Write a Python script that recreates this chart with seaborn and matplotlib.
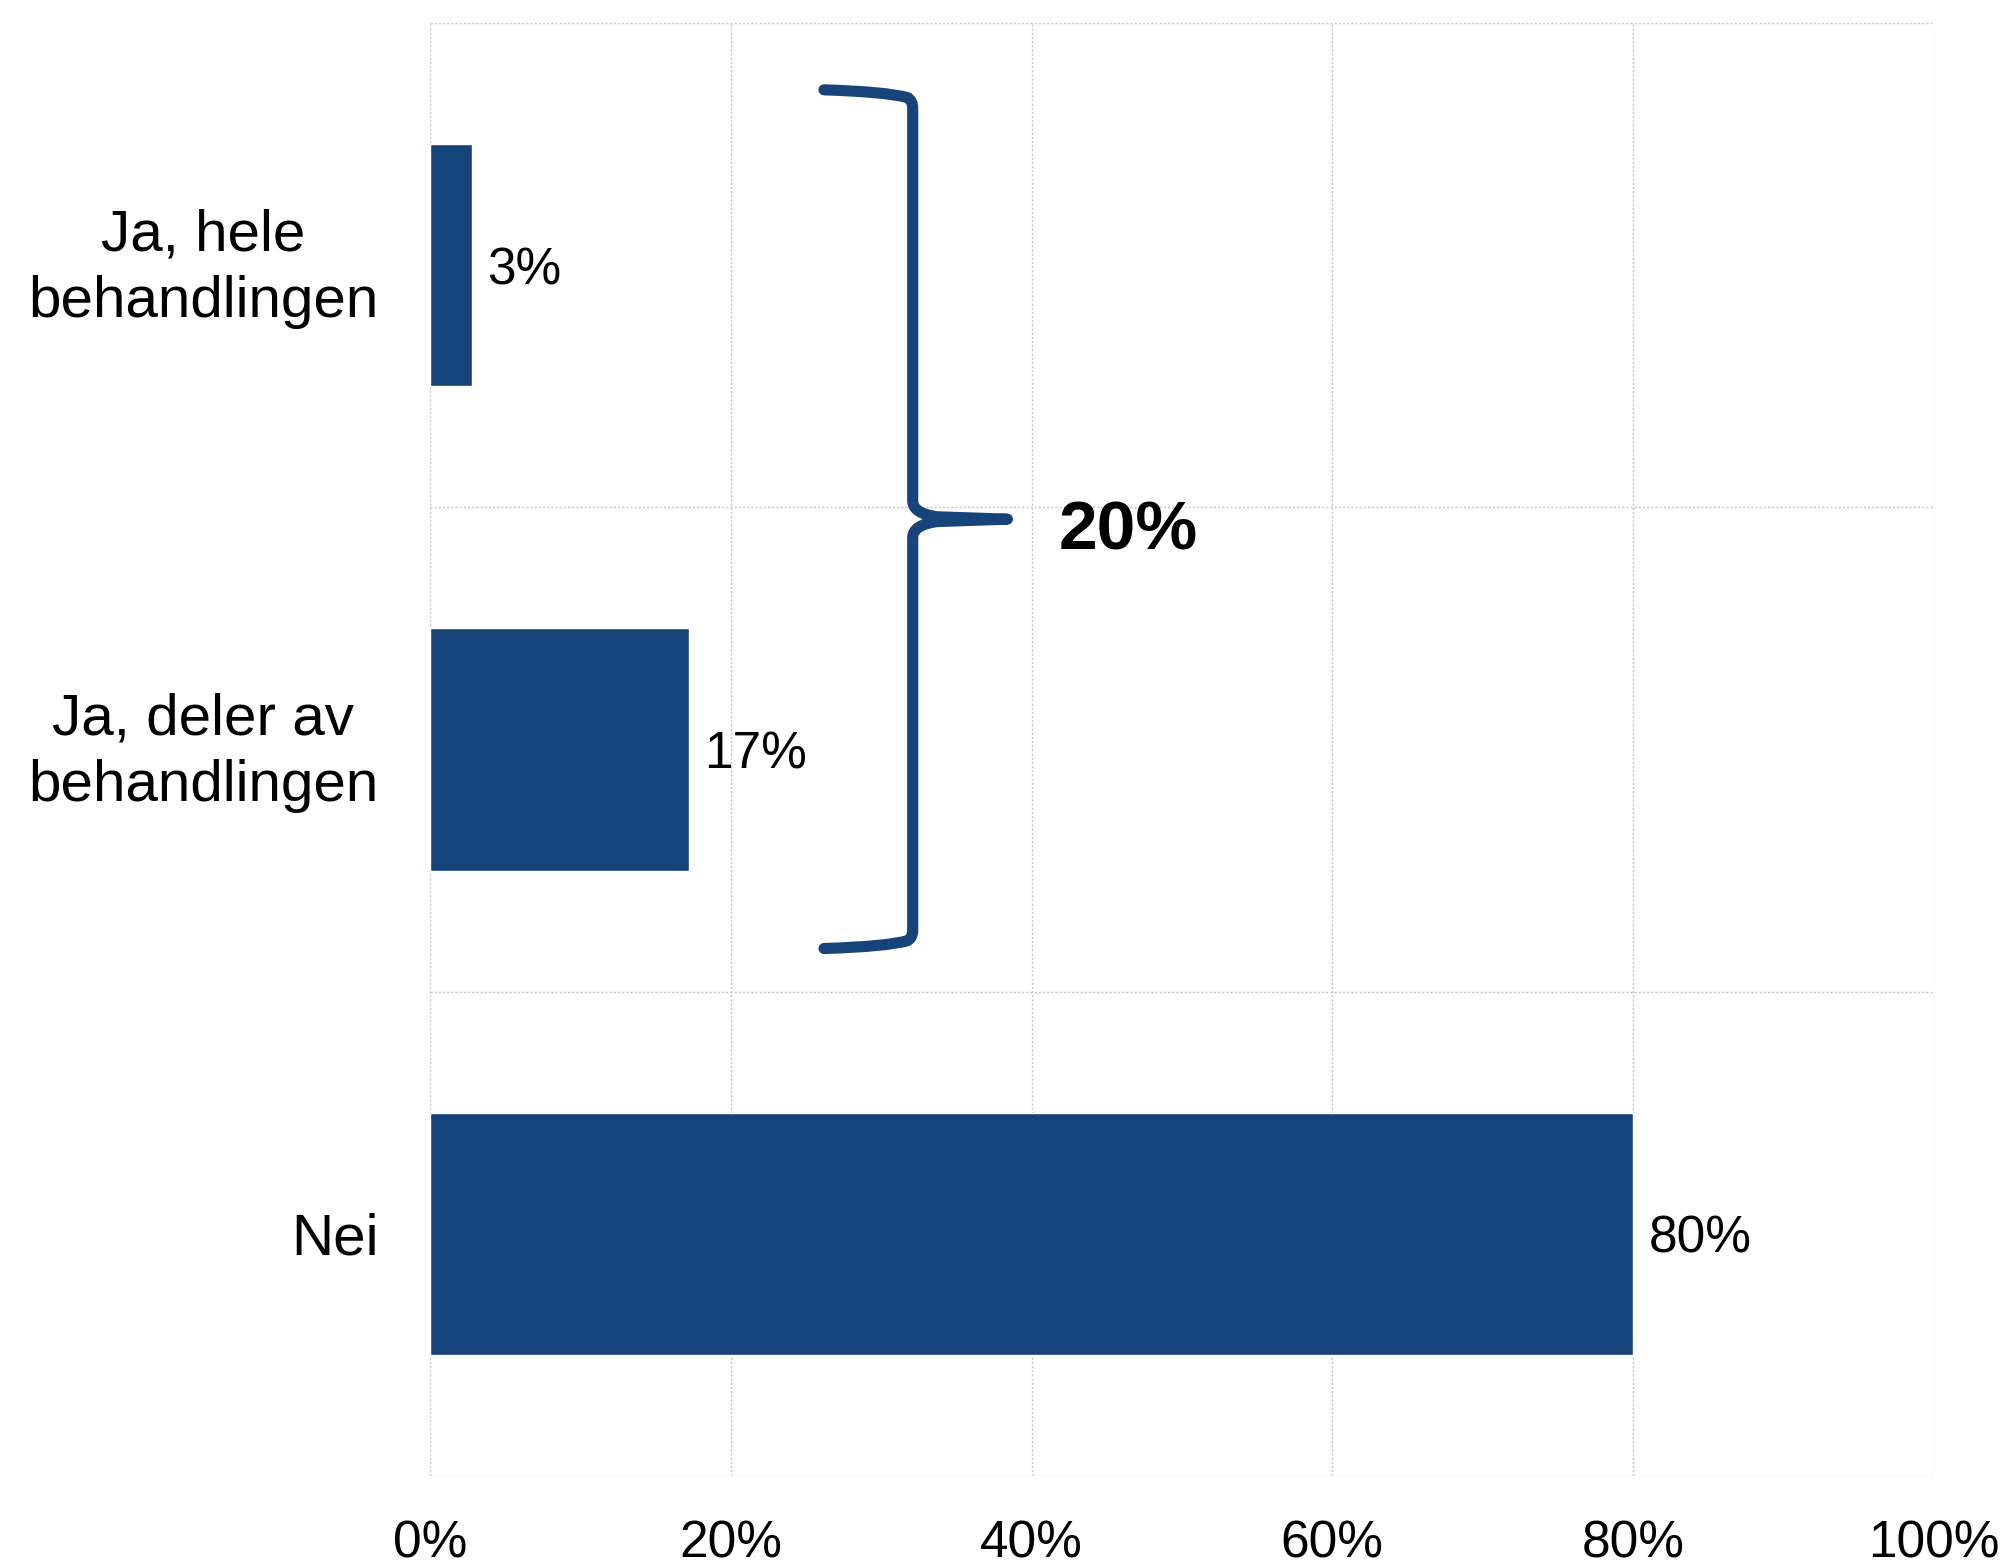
import matplotlib
matplotlib.use("Agg")
import matplotlib.pyplot as plt
from matplotlib.path import Path
from matplotlib.patches import PathPatch
import seaborn as sns

# data
categories = ["Ja, hele\nbehandlingen", "Ja, deler av\nbehandlingen", "Nei"]
values = [2.8, 17.2, 80.0]
value_labels = [f"{round(v)}%" for v in values]
x_ticks = [0, 20, 40, 60, 80, 100]
x_tick_labels = [f"{t}%" for t in x_ticks]
bracket_total = values[0] + values[1]

bar_color = "#17437B"
grid_color = "#c4c4c4"

sns.set_style("white")
plt.rcParams["font.family"] = ["Liberation Sans", "DejaVu Sans"]
plt.rcParams["text.color"] = "black"
plt.rcParams["xtick.color"] = "black"
plt.rcParams["ytick.color"] = "black"

fig = plt.figure(figsize=(20.08, 15.64), dpi=100)
ax = fig.add_axes([0.2141, 0.0563, 0.749, 0.929])

sns.barplot(x=values, y=categories, orient="h", color=bar_color,
            saturation=1, width=0.5, ax=ax)

ax.set_xlim(0, 100)
ax.set_ylim(2.5, -0.5)
ax.set_xticks(x_ticks)
ax.set_xticklabels(x_tick_labels, fontsize=37)
ax.set_yticks(range(len(categories)))
ax.set_yticklabels([])
ax.tick_params(axis="x", length=0, pad=31)
ax.tick_params(axis="y", length=0)
ax.set_xlabel("")
ax.set_ylabel("")

# category labels, right aligned, lines centred
for i, cat in enumerate(categories):
    dy = 6.5 if "\n" in cat else 0
    ax.annotate(cat, xy=(0, i), xycoords=("axes fraction", "data"),
                xytext=(-37, dy), textcoords="offset points",
                ha="right", va="center_baseline", multialignment="center",
                linespacing=1.3, fontsize=42, color="black")

# dotted grid, also used as the frame
ax.set_yticks([-0.5, 0.5, 1.5, 2.5], minor=True)
ax.tick_params(which="minor", length=0)
ax.grid(axis="x", which="major", color=grid_color, linestyle=(0, (1.5, 1.5)), linewidth=1)
ax.grid(axis="y", which="minor", color=grid_color, linestyle=(0, (1.5, 1.5)), linewidth=1)
ax.set_axisbelow(True)
for s in ax.spines.values():
    s.set_visible(False)

labels = ax.bar_label(ax.containers[0], labels=value_labels, padding=11, fontsize=37)
for t in labels:
    t.set_va("center_baseline")

# curly bracket grouping the two "Ja" answers
xl, xv, xt = 26.2, 32.1, 38.4
ya, yb = -0.362, 1.411
ym = (ya + yb) / 2
verts = [
    (xl, ya), (xl + 0.7 * (xv - xl), ya + 0.004), (xv - 0.35, ya + 0.016),
    (xv, ya + 0.022), (xv, ya + 0.038),
    (xv, ym - 0.038), (xv, ym - 0.012), (xv + 1.6, ym - 0.005),
    (xt, ym),
    (xv + 1.6, ym + 0.005), (xv, ym + 0.012), (xv, ym + 0.038),
    (xv, yb - 0.038),
    (xv, yb - 0.022), (xv - 0.35, yb - 0.016),
    (xl + 0.7 * (xv - xl), yb - 0.004), (xl, yb),
]
codes = [
    Path.MOVETO, Path.CURVE3, Path.CURVE3,
    Path.CURVE3, Path.CURVE3,
    Path.LINETO, Path.CURVE3, Path.CURVE3,
    Path.LINETO,
    Path.LINETO, Path.CURVE3, Path.CURVE3,
    Path.LINETO,
    Path.CURVE3, Path.CURVE3,
    Path.CURVE3, Path.CURVE3,
]
brace = PathPatch(Path(verts, codes), fill=False, edgecolor=bar_color,
                  linewidth=8, capstyle="round", joinstyle="round", zorder=4)
ax.add_patch(brace)
ax.text(41.8, ym + 0.01, f"{round(bracket_total)}%", fontsize=50, fontweight="bold",
        va="center_baseline", ha="left", color="black")

plt.savefig("out.png", dpi=100)
plt.close()
